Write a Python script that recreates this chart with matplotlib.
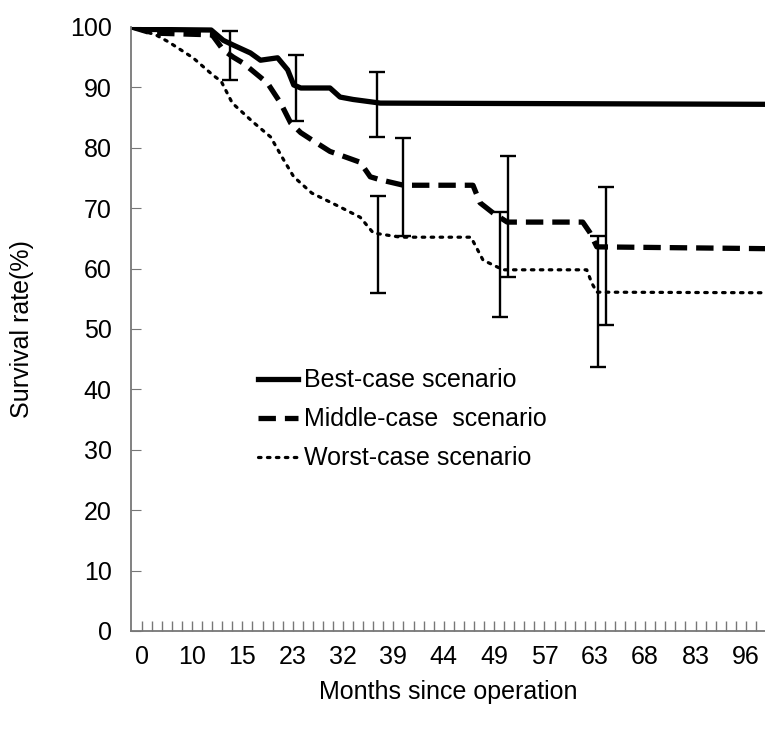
import matplotlib.pyplot as plt

plt.rcParams['font.family'] = ['Liberation Sans', 'DejaVu Sans']

# category axis: every 5th category gets a month label
month_labels = ['0', '10', '15', '23', '32', '39', '44', '49', '57', '63', '68', '83', '96']
label_pos = [0, 5, 10, 15, 20, 25, 30, 35, 40, 45, 50, 55, 60]

best_x = [-1.0, 0.5, 6.9, 8.1, 9.1, 10.8, 11.8, 13.5, 14.5, 15.1, 15.8, 18.7, 19.7, 21.0, 23.7, 62]
best_y = [100, 99.6, 99.5, 97.8, 97.0, 95.7, 94.5, 94.9, 92.9, 90.4, 89.9, 89.9, 88.4, 88.0, 87.4, 87.2]

mid_x = [-1.0, 1.0, 7.0, 8.1, 9.1, 10.1, 12.5, 13.8, 14.8, 15.8, 17.0, 18.7, 21.7, 22.7, 23.7,
         26.0, 32.9, 33.6, 34.9, 36.3, 43.8, 44.5, 45.2, 62]
mid_y = [100, 99.0, 98.7, 96.2, 95.0, 94.0, 90.7, 87.4, 84.1, 82.5, 81.2, 79.4, 77.6, 75.2, 74.7,
         73.8, 73.8, 70.9, 69.2, 67.7, 67.7, 66.0, 63.6, 63.3]

worst_x = [-1.0, 0.4, 1.4, 2.7, 5.1, 7.1, 7.9, 9.0, 11.1, 12.8, 14.1, 15.1, 16.9, 19.7, 21.7,
           23.0, 25.7, 32.7, 33.9, 35.9, 44.2, 44.7, 45.2, 62]
worst_y = [100, 99.2, 98.7, 97.5, 94.9, 92.0, 91.0, 87.4, 84.2, 81.8, 78.0, 75.2, 72.5, 70.2, 68.5,
           65.9, 65.2, 65.2, 61.4, 59.8, 59.8, 57.6, 56.1, 56.0]

# error bars (position, lower, upper)
err_x = [8.8, 15.3, 23.4, 23.5, 26.0, 35.6, 36.4, 45.3, 46.1]
err_lo = [91.3, 84.5, 81.8, 56.0, 65.4, 52.0, 58.6, 43.7, 50.7]
err_hi = [99.3, 95.4, 92.5, 72.0, 81.6, 69.4, 78.6, 65.4, 73.5]

fig = plt.figure(figsize=(7.65, 7.32), dpi=100)
ax = fig.add_axes([131/765, 101/732, 634/765, 604/732])

ax.plot(best_x, best_y, color='black', lw=3.8, label='Best-case scenario', solid_joinstyle='round')
ax.plot(mid_x, mid_y, color='black', lw=3.8, dashes=(3.3, 1.7), label='Middle-case  scenario')
ax.plot(worst_x, worst_y, color='black', lw=2.3, linestyle=(0, (0.8, 2.0)),
        dash_capstyle='round', label='Worst-case scenario')

mid = [(lo + hi) / 2 for lo, hi in zip(err_lo, err_hi)]
half = [(hi - lo) / 2 for lo, hi in zip(err_lo, err_hi)]
ax.errorbar(err_x, mid, yerr=half, fmt='none', ecolor='black', elinewidth=1.7,
            capsize=6, capthick=1.7)

ax.set_xlim(-1.06, 61.9)
ax.set_ylim(0, 100)
ax.set_yticks(range(0, 101, 10))
ax.set_xticks(range(0, 62), minor=True)
ax.set_xticks(label_pos)
ax.set_xticklabels(month_labels)

for s in ['top', 'right']:
    ax.spines[s].set_visible(False)
for s in ['left', 'bottom']:
    ax.spines[s].set_color('#777777')
    ax.spines[s].set_linewidth(1.3)

ax.tick_params(axis='y', direction='in', length=7, color='#777777', labelsize=18, pad=14)
ax.tick_params(axis='x', which='both', direction='in', length=7, color='#777777', width=1.0)
ax.tick_params(axis='x', which='major', labelsize=18, pad=10)

ax.set_xlabel('Months since operation', fontsize=18, labelpad=8)
ax.set_ylabel('Survival rate(%)', fontsize=18, labelpad=26)

ax.legend(loc='upper left', bbox_to_anchor=(0.2, 0.435), frameon=False, fontsize=18,
          handlelength=1.6, handletextpad=0.25, labelspacing=0.6, borderpad=0, borderaxespad=0)

plt.savefig('out.png', dpi=100)
